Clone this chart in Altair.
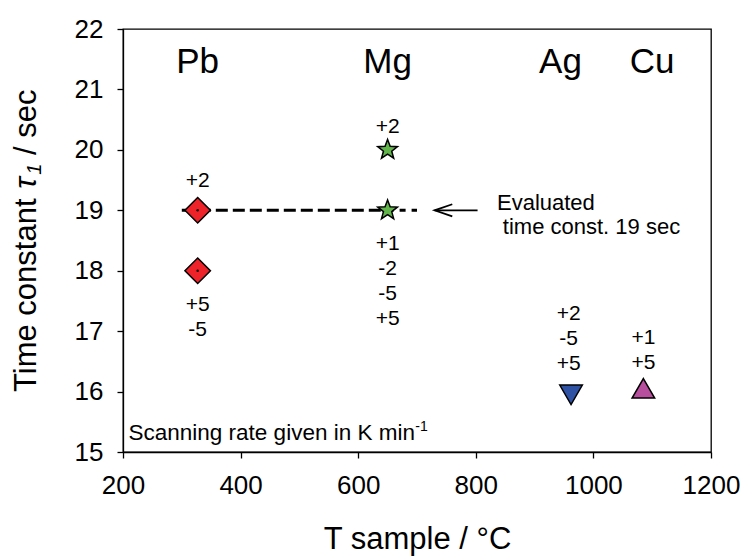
import math
import altair as alt
import pandas as pd

FONT = "Liberation Sans"

# ---- data ----
metals = ["Pb", "Pb", "Mg", "Mg", "Ag", "Cu"]
temps = [327, 327, 650, 650, 962, 1085]
taus = [19, 18, 20, 19, 16, 16]

element_names = ["Pb", "Mg", "Ag", "Cu"]
element_x = [327, 650, 944, 1100]
element_y = [21.28, 21.28, 21.28, 21.28]

rate_text = ["+2", "+5\n-5", "+2", "+1\n-2\n-5\n+5", "+2\n-5\n+5", "+1\n+5"]
rate_x = [327, 327, 650, 650, 958, 1085]
rate_y = [19.38, 17.33, 20.28, 18.34, 17.18, 16.78]

ref_tau = 19
ref_long_x = [300, 650]
ref_short_x = [650, 700]

arrow_shaft_x = [730, 803]
arrow_head_x = [760, 730, 760]
arrow_head_y = [19.1, 19.0, 18.9]

note_text = ["Evaluated", "time const. 19 sec"]
note_x = [836, 846]
note_y = [19.0, 18.6]

scan_text = "Scanning rate given in K min"
scan_x, scan_y = 209.4, 15.2
sup_text = "-1"
sup_x, sup_y = 697, 15.35

x_ticks = [200, 400, 600, 800, 1000, 1200]
y_ticks = [15, 16, 17, 18, 19, 20, 21, 22]

# ---- marker shapes (unit paths) ----
diamond = "M0,-1L1,0L0,1L-1,0Z"
pts_star = []
for k in range(10):
    r = 1.0 if k % 2 == 0 else 0.42
    a = math.radians(-90 + 36 * k)
    pts_star.append(f"{r*math.cos(a):.4f},{r*math.sin(a):.4f}")
star = "M" + "L".join(pts_star) + "Z"
tri_down = "M-1,-0.577L1,-0.577L0,1.155Z"
tri_up = "M0,-1.155L1,0.577L-1,0.577Z"

X = alt.X("T:Q", scale=alt.Scale(domain=[200, 1200], nice=False, zero=False),
          axis=alt.Axis(values=x_ticks, title="T sample / °C", titleFont=FONT,
                        titleFontSize=31, titleFontWeight="normal", titleColor="black",
                        titleY=96, titleBaseline="alphabetic",
                        labelFont=FONT, labelFontSize=26, labelColor="black",
                        labelFlush=False, labelOverlap=False, labelBound=False,
                        labelPadding=14, tickSize=6, tickColor="black", tickWidth=1.3,
                        domainColor="black", domainWidth=1.3, grid=False, format="d"))
Y = alt.Y("tau:Q", scale=alt.Scale(domain=[15, 22], nice=False, zero=False),
          axis=alt.Axis(values=y_ticks, title=None,
                        labelFont=FONT, labelFontSize=26, labelColor="black",
                        labelFlush=False, labelOverlap=False, labelBound=False,
                        labelPadding=14, tickSize=6, tickColor="black", tickWidth=1.3,
                        domainColor="black", domainWidth=1.3, grid=False))

pts = pd.DataFrame({"metal": metals, "T": temps, "tau": taus})


def marker(metal, shape, color, size):
    return alt.Chart(pts).transform_filter(alt.datum.metal == metal).mark_point(
        shape=shape, filled=True, fill=color, stroke="black", strokeWidth=1.5,
        size=size, opacity=1, fillOpacity=1, strokeOpacity=1
    ).encode(x=X, y=Y)


ref_long = alt.Chart(pd.DataFrame({"T": ref_long_x, "tau": [ref_tau] * 2})).mark_line(
    color="black", strokeWidth=3, strokeDash=[12, 5]).encode(x=X, y=Y)
ref_short = alt.Chart(pd.DataFrame({"T": ref_short_x, "tau": [ref_tau] * 2})).mark_line(
    color="black", strokeWidth=3, strokeDash=[6, 6]).encode(x=X, y=Y)

arrow_shaft = alt.Chart(pd.DataFrame({"T": arrow_shaft_x, "tau": [19, 19]})).mark_line(
    color="black", strokeWidth=1.8).encode(x=X, y=Y)
arrow_head = alt.Chart(pd.DataFrame({"T": arrow_head_x, "tau": arrow_head_y,
                                     "o": [0, 1, 2]})).mark_line(
    color="black", strokeWidth=1.8).encode(x=X, y=Y, order="o:Q")

dots = alt.Chart(pts).transform_filter(alt.datum.metal == "Pb").mark_point(
    shape="circle", filled=True, color="black", size=6, opacity=1).encode(x=X, y=Y)

elements = alt.Chart(pd.DataFrame({"T": element_x, "tau": element_y, "t": element_names})).mark_text(
    font=FONT, fontSize=35, align="center", baseline="alphabetic", color="black"
).encode(x=X, y=Y, text="t:N")

rates = alt.Chart(pd.DataFrame({"T": rate_x, "tau": rate_y, "t": rate_text})).mark_text(
    font=FONT, fontSize=21, align="center", baseline="alphabetic", color="black",
    lineBreak="\n", lineHeight=24.8
).encode(x=X, y=Y, text="t:N")

notes = alt.Chart(pd.DataFrame({"T": note_x, "tau": note_y, "t": note_text})).mark_text(
    font=FONT, fontSize=22, align="left", baseline="alphabetic", color="black"
).encode(x=X, y=Y, text="t:N")

scan = alt.Chart(pd.DataFrame({"T": [scan_x], "tau": [scan_y], "t": [scan_text]})).mark_text(
    font=FONT, fontSize=22.5, align="left", baseline="alphabetic", color="black"
).encode(x=X, y=Y, text="t:N")
sup = alt.Chart(pd.DataFrame({"T": [sup_x], "tau": [sup_y], "t": [sup_text]})).mark_text(
    font=FONT, fontSize=14, align="left", baseline="alphabetic", color="black"
).encode(x=X, y=Y, text="t:N")

one = pd.DataFrame({"a": [0]})


def ytitle(txt, xpix, ypix, size, style):
    return alt.Chart(one).mark_text(
        font=FONT, fontSize=size, fontStyle=style, angle=270, align="left",
        baseline="alphabetic", color="black"
    ).encode(x=alt.value(xpix), y=alt.value(ypix), text=alt.value(txt))


yt1 = ytitle("Time constant", -87, 363, 31, "normal")
yt2 = ytitle("τ", -87, 159.7, 31, "italic")
yt3 = ytitle("1", -82, 145.7, 20, "italic")
yt4 = ytitle("/ sec", -87, 126, 31, "normal")

chart = alt.layer(
    ref_long, ref_short, arrow_shaft, arrow_head,
    marker("Pb", diamond, "#EE2229", 650),
    marker("Mg", star, "#62B54A", 430),
    marker("Ag", tri_down, "#2F52A4", 510),
    marker("Cu", tri_up, "#B84E9E", 510),
    dots, elements, rates, notes, scan, sup, yt1, yt2, yt3, yt4
).properties(
    width=588, height=423,
    autosize=alt.AutoSizeParams(type="none"),
    padding={"left": 123, "top": 29, "right": 33, "bottom": 104},
    background="white"
).configure_view(stroke="black", strokeWidth=1.3)

chart.save("out.html", embed_options={"renderer": "svg", "actions": False})
